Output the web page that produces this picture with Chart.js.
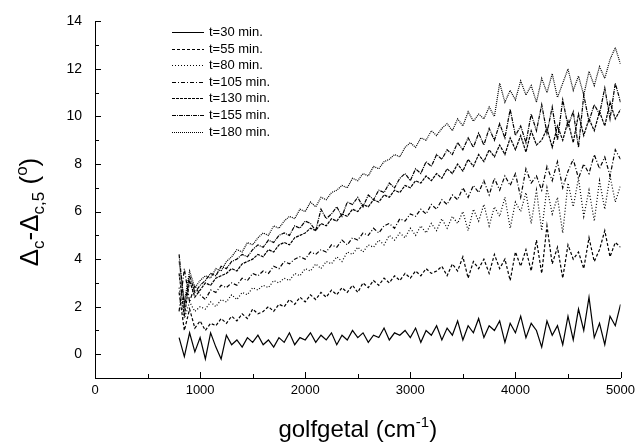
<!DOCTYPE html>
<html lang="nl">

<head>
    <meta charset="UTF-8">
    <title>Δc-Δc,5 versus golfgetal</title>

    <!-- Load Chart.js from CDN -->
    <script src="https://cdn.jsdelivr.net/npm/chart.js@4"></script>

    <style>
        body {
            margin: 0;
            background: #fff;
        }

        #chart-container {
            width: 640px;
            height: 448px;
        }
    </style>
</head>

<body>

    <div id="chart-container">
        <canvas id="spectrumChart" width="640" height="448"></canvas>
    </div>

    <script>
        // wavenumbers (cm-1), one per measured point
        const wavenumbers = [
            800, 850, 900, 950, 1000, 1050, 1100, 1150, 1200, 1250,
            1300, 1350, 1400, 1450, 1500, 1550, 1600, 1650, 1700, 1750,
            1800, 1850, 1900, 1950, 2000, 2050, 2100, 2150, 2200, 2250,
            2300, 2350, 2400, 2450, 2500, 2550, 2600, 2650, 2700, 2750,
            2800, 2850, 2900, 2950, 3000, 3050, 3100, 3150, 3200, 3250,
            3300, 3350, 3400, 3450, 3500, 3550, 3600, 3650, 3700, 3750,
            3800, 3850, 3900, 3950, 4000, 4050, 4100, 4150, 4200, 4250,
            4300, 4350, 4400, 4450, 4500, 4550, 4600, 4650, 4700, 4750,
            4800, 4850, 4900, 4950, 5000
        ];

        const t30 = [
            0.7, -0.1, 0.9, 0.1, 0.7, -0.2, 0.9, 0.3, -0.2, 0.8,
            0.4, 0.6, 0.3, 0.7, 0.5, 0.8, 0.4, 0.6, 0.3, 0.7,
            0.5, 0.9, 0.4, 0.7, 0.6, 0.9, 0.5, 0.8, 0.6, 0.9,
            0.4, 0.8, 0.6, 1.0, 0.7, 0.9, 0.5, 0.8, 0.7, 1.1,
            0.6, 0.9, 0.8, 1.0, 0.7, 1.1, 0.5, 1.0, 0.8, 1.2,
            0.6, 1.1, 0.8, 1.4, 0.6, 1.2, 0.9, 1.5, 0.7, 1.2,
            1.0, 1.4, 0.5, 1.3, 0.9, 1.6, 0.7, 1.3, 1.0, 0.3,
            1.4, 0.8, 1.2, 0.4, 1.6, 0.6, 1.9, 1.0, 2.4, 0.7,
            1.3, 0.4, 1.6, 1.2, 2.1
        ];

        const t55 = [
            2.6, 1.0, 1.9, 1.1, 1.4, 1.0, 1.3, 1.2, 1.5, 1.3,
            1.6, 1.4, 1.7, 1.5, 1.9, 1.7, 1.8, 2.0, 1.8, 2.1,
            2.0, 2.3, 2.1, 2.4, 2.2, 2.5, 2.3, 2.6, 2.4, 2.7,
            2.5, 2.8, 2.6, 2.9, 2.6, 3.0, 2.8, 3.1, 2.9, 3.2,
            3.0, 3.3, 3.1, 3.4, 3.2, 3.5, 3.3, 3.6, 3.4, 3.5,
            3.7, 3.3, 3.8, 3.5, 4.1, 3.2, 3.9, 3.6, 4.0, 3.4,
            4.2, 3.6, 4.0, 3.1, 4.3, 3.7, 4.4, 3.5, 4.8, 3.4,
            5.4, 3.8, 4.5, 3.2, 4.6, 4.0, 4.3, 3.6, 4.9, 3.9,
            4.4, 5.2, 4.1, 4.7, 4.5
        ];

        const t80 = [
            2.8, 1.5, 2.2, 1.8, 2.0, 1.9, 2.2, 2.0, 2.3, 2.2,
            2.5, 2.3, 2.6, 2.5, 2.8, 2.7, 2.9, 2.8, 3.1, 3.0,
            3.2, 3.1, 3.4, 3.3, 3.6, 3.5, 3.8, 3.6, 3.9, 3.8,
            4.1, 3.9, 4.3, 4.2, 4.5, 4.3, 4.6, 4.5, 4.8, 4.6,
            5.0, 4.8, 5.1, 4.9, 5.3, 5.0, 5.4, 5.1, 5.5, 5.2,
            5.7, 5.3, 5.8, 5.5, 6.0, 5.2, 6.1, 5.6, 6.3, 5.4,
            6.2, 5.8, 6.6, 5.3, 6.4, 6.0, 6.8, 5.5, 6.9, 5.2,
            7.0, 5.9, 6.6, 5.1, 7.2, 6.2, 7.4, 5.8, 6.9, 5.6,
            7.3, 6.1, 7.5, 6.4, 7.1
        ];

        const t105 = [
            1.8, 3.6, 2.2, 2.9, 2.5, 2.3, 2.7, 2.6, 2.9, 2.8,
            3.0, 2.9, 3.2, 3.1, 3.4, 3.3, 3.5, 3.4, 3.7, 3.6,
            3.9, 3.8, 4.0, 4.1, 4.0, 4.3, 4.2, 4.4, 4.3, 4.6,
            4.5, 4.8, 4.6, 4.9, 4.8, 5.1, 5.0, 5.3, 5.1, 5.4,
            5.5, 5.3, 5.7, 5.6, 5.9, 5.8, 6.1, 5.9, 6.3, 6.1,
            6.5, 6.3, 6.7, 6.5, 7.0, 6.6, 7.1, 6.8, 7.3, 6.7,
            7.4, 6.9, 7.5, 7.1, 7.6, 6.6, 7.8, 7.2, 7.5, 6.9,
            7.9, 7.3, 8.1, 7.0, 7.7, 8.2, 7.4, 8.0, 7.6, 8.4,
            7.8, 8.3, 7.5, 8.6, 8.2
        ];

        const t130 = [
            3.4, 1.6, 3.1, 2.4, 2.7, 3.0, 2.9, 3.2, 3.3, 3.4,
            3.6, 3.5, 3.8, 3.9, 4.0, 4.2, 4.1, 4.4, 4.3, 4.6,
            4.7, 4.6, 4.9, 5.0, 5.1, 5.3, 5.2, 5.5, 5.4, 5.7,
            5.6, 5.9, 5.8, 6.1, 6.0, 6.3, 6.2, 6.5, 6.4, 6.7,
            6.6, 6.9, 6.8, 7.1, 7.0, 7.3, 7.2, 7.5, 7.3, 7.6,
            7.4, 7.8, 7.6, 8.0, 7.7, 8.2, 7.9, 8.4, 8.1, 8.6,
            8.3, 8.8, 8.4, 9.1, 8.6, 9.2, 8.5, 9.4, 8.8, 9.0,
            9.5, 8.7, 9.6, 9.0, 9.8, 8.9, 10.1, 9.2, 9.9, 9.4,
            10.2, 9.6, 10.6, 9.9, 10.3
        ];

        const t155 = [
            4.2, 2.0, 3.3, 2.6, 2.9, 3.1, 3.4, 3.3, 3.7, 3.6,
            3.9, 4.0, 4.2, 4.1, 4.4, 4.6, 4.5, 4.8, 4.7, 5.0,
            5.1, 5.0, 5.4, 5.3, 5.6, 5.5, 5.2, 6.1, 5.7, 5.9,
            6.2, 5.8, 6.4, 6.3, 6.6, 6.2, 6.7, 6.5, 6.9, 6.8,
            7.2, 7.0, 7.4, 7.6, 7.3, 7.8, 7.6, 8.1, 7.9, 8.4,
            8.2, 8.6, 8.4, 8.9, 8.6, 9.1, 8.7, 9.3, 8.8, 9.5,
            9.0, 9.7, 9.1, 10.3, 9.2, 9.6, 8.9, 10.1, 9.4, 10.5,
            9.3, 10.4, 9.0, 10.7, 9.6, 10.2, 8.7, 10.9, 9.8, 10.5,
            10.1, 11.2, 9.9, 11.4, 10.6
        ];

        const t180 = [
            3.9, 2.2, 3.5, 2.8, 3.1, 3.3, 3.2, 3.6, 3.5, 3.9,
            4.1, 4.4, 4.3, 4.7, 4.6, 4.9, 5.1, 5.0, 5.4, 5.3,
            5.6, 5.8, 5.7, 6.1, 6.0, 6.4, 6.2, 6.6, 6.5, 6.8,
            6.9, 7.1, 7.0, 7.4, 7.3, 7.6, 7.5, 7.9, 7.8, 8.1,
            8.2, 8.4, 8.3, 8.7, 8.9, 8.7, 9.1, 9.0, 9.4, 9.2,
            9.5, 9.7, 9.4, 9.9, 9.6, 10.2, 9.8, 10.1, 9.9, 10.4,
            10.0, 11.4, 10.6, 11.1, 10.7, 11.5, 10.9, 11.3, 10.6, 11.6,
            11.0, 11.8, 10.8, 11.4, 12.0, 11.1, 11.7, 10.9, 11.9, 11.3,
            12.1, 11.6, 12.4, 12.9, 12.2
        ];

        const seriesLabels = ['t=30 min.', 't=55 min.', 't=80 min.', 't=105 min.', 't=130 min.', 't=155 min.', 't=180 min.'];
        const seriesValues = [t30, t55, t80, t105, t130, t155, t180];
        // line style per curve: solid, dash, dot, dash-dot, ...
        const dashPatterns = [[], [3, 2], [1, 2], [4, 2, 1, 2], [3, 1], [4, 1, 1, 1], [1, 1]];

        const axisFont = "'Liberation Sans', Arial, sans-serif";

        const datasets = seriesValues.map((vals, i) => ({
            label: seriesLabels[i],
            data: wavenumbers.map((x, j) => ({ x: x, y: vals[j] })),
            borderColor: '#000',
            borderWidth: 1.2,
            borderDash: dashPatterns[i],
            pointRadius: 0,
            tension: 0,
            fill: false
        }));

        // inward tick marks (major + minor), legend and axis titles
        const decorations = {
            id: 'decorations',
            afterDraw(chart) {
                const ctx = chart.ctx;
                const xs = chart.scales.x;
                const ys = chart.scales.y;
                const area = chart.chartArea;

                ctx.save();
                ctx.strokeStyle = '#000';
                ctx.lineWidth = 1;
                ctx.beginPath();
                for (let v = 0; v <= 5000; v += 500) {
                    const px = Math.round(xs.getPixelForValue(v)) + 0.5;
                    const len = v % 1000 === 0 ? 6 : 4;
                    ctx.moveTo(px, area.bottom);
                    ctx.lineTo(px, area.bottom - len);
                }
                for (let v = -1; v <= 14; v += 1) {
                    const py = Math.round(ys.getPixelForValue(v)) + 0.5;
                    const len = v % 2 === 0 ? 6 : 4;
                    ctx.moveTo(area.left, py);
                    ctx.lineTo(area.left + len, py);
                }
                ctx.stroke();

                // legend
                ctx.font = "13px 'Liberation Sans', Arial, sans-serif";
                ctx.fillStyle = '#000';
                ctx.textBaseline = 'middle';
                ctx.textAlign = 'left';
                seriesLabels.forEach((label, i) => {
                    const y = Math.round(32 + i * 16.6) + 0.5;
                    ctx.beginPath();
                    ctx.setLineDash(dashPatterns[i]);
                    ctx.moveTo(172, y);
                    ctx.lineTo(204, y);
                    ctx.stroke();
                    ctx.setLineDash([]);
                    ctx.fillText(label, 209, y);
                });

                // x title: golfgetal (cm-1)
                ctx.textBaseline = 'alphabetic';
                const big = "24px 'Liberation Sans', Arial, sans-serif";
                const small = "15px 'Liberation Sans', Arial, sans-serif";
                const parts = [['golfgetal (cm', big, 0], ['-1', small, -10], [')', big, 0]];
                let total = 0;
                parts.forEach(p => { ctx.font = p[1]; total += ctx.measureText(p[0]).width; });
                let x = (area.left + area.right) / 2 - total / 2;
                parts.forEach(p => {
                    ctx.font = p[1];
                    ctx.fillText(p[0], x, 437 + p[2]);
                    x += ctx.measureText(p[0]).width;
                });

                // y title: Δc-Δc,5 (°), rotated
                const yBig = "26px 'Liberation Sans', Arial, sans-serif";
                const ySmall = "17px 'Liberation Sans', Arial, sans-serif";
                const yParts = [
                    ['Δ', yBig, 0], ['c', ySmall, 6], ['-Δ', yBig, 0], ['c,5', ySmall, 6],
                    [' (', yBig, 0], ['o', ySmall, -11], [')', yBig, 0]
                ];
                let yTotal = 0;
                yParts.forEach(p => { ctx.font = p[1]; yTotal += ctx.measureText(p[0]).width; });
                ctx.translate(38, 212);
                ctx.rotate(-Math.PI / 2);
                let tx = -yTotal / 2;
                yParts.forEach(p => {
                    ctx.font = p[1];
                    ctx.fillText(p[0], tx, p[2]);
                    tx += ctx.measureText(p[0]).width;
                });
                ctx.restore();
            }
        };

        const ctx = document.getElementById('spectrumChart').getContext('2d');
        const spectrumChart = new Chart(ctx, {
            type: 'line',
            data: { datasets: datasets },
            plugins: [decorations],
            options: {
                responsive: false,
                animation: false,
                devicePixelRatio: 1,
                layout: { padding: { top: 15, right: 16, left: 0, bottom: 0 } },
                plugins: {
                    legend: { display: false },
                    tooltip: { enabled: false }
                },
                scales: {
                    x: {
                        type: 'linear',
                        min: 0,
                        max: 5000,
                        afterFit: (scale) => { scale.height = 70; },
                        grid: { display: false, drawTicks: false },
                        border: { display: true, color: '#000', width: 1 },
                        ticks: {
                            stepSize: 500,
                            autoSkip: false,
                            maxRotation: 0,
                            padding: 5,
                            color: '#000',
                            font: { family: axisFont, size: 13 },
                            callback: (v) => (v % 1000 === 0 ? String(v) : '')
                        }
                    },
                    y: {
                        type: 'linear',
                        min: -1,
                        max: 14,
                        afterFit: (scale) => { scale.width = 95; },
                        grid: { display: false, drawTicks: false },
                        border: { display: true, color: '#000', width: 1 },
                        ticks: {
                            stepSize: 1,
                            autoSkip: false,
                            padding: 13,
                            color: '#000',
                            font: { family: axisFont, size: 14 },
                            callback: (v) => (v % 2 === 0 ? String(v) : '')
                        }
                    }
                }
            }
        });
    </script>

</body>

</html>
